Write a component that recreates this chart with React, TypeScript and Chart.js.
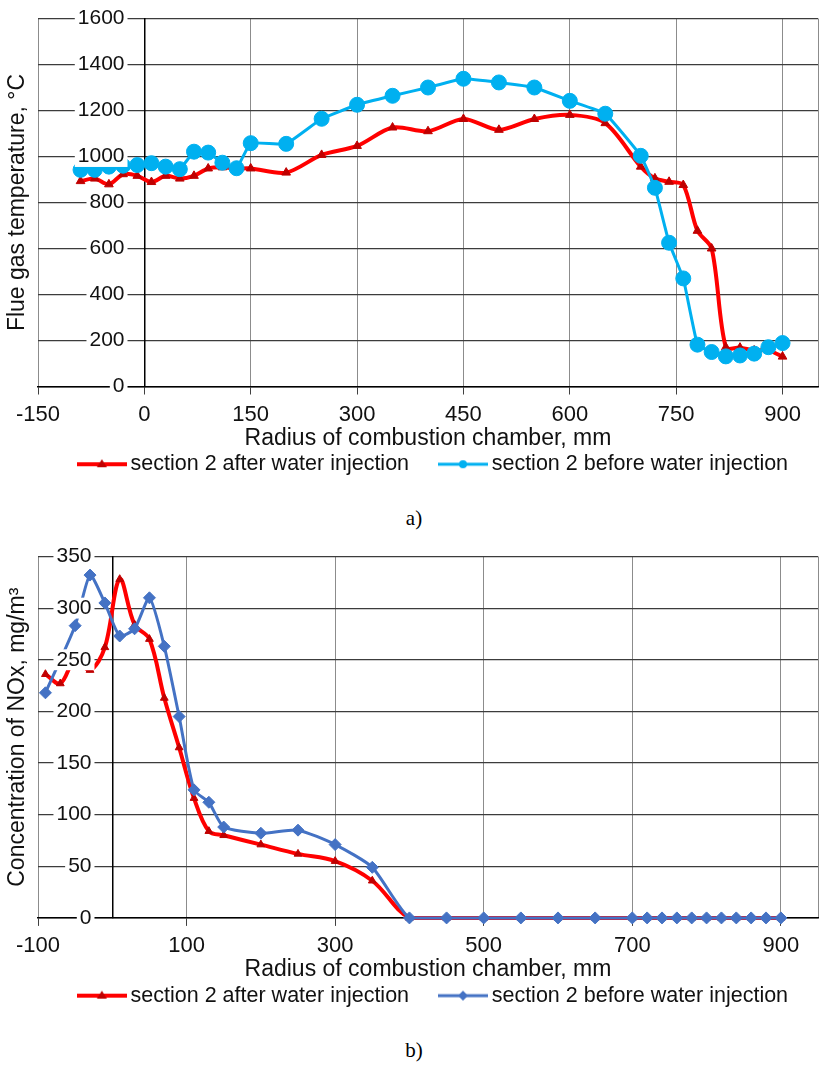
import { useEffect, useRef } from "react";
import { Chart, registerables } from "chart.js";

Chart.register(...registerables);

// chart a) flue gas temperature
const radiusA = [-90, -70, -50, -30, -10, 10, 30, 50, 70, 90, 110, 130, 150, 200, 250, 300, 350, 400, 450, 500, 550, 600, 650, 700, 720, 740, 760, 780, 800, 820, 840, 860, 880, 900];
const tempAfter = [893, 904, 879, 923, 916, 889, 916, 904, 916, 948, 953, 948, 948, 930, 1007, 1046, 1126, 1110, 1163, 1116, 1163, 1181, 1145, 956, 905, 890, 876, 677, 600, 171, 169, 157, 157, 130];
const tempBefore = [942, 942, 956, 960, 963, 971, 956, 945, 1021, 1017, 973, 949, 1058, 1055, 1164, 1225, 1264, 1300, 1338, 1322, 1300, 1242, 1186, 1003, 864, 625, 470, 182, 150, 131, 135, 143, 171, 189];
const tickXA = [-150, 0, 150, 300, 450, 600, 750, 900];

// chart b) NOx concentration
const radiusAfterB = [-90, -70, -50, -30, -10, 10, 30, 50, 70, 90, 110, 130, 150, 200, 250, 300, 350, 400, 450, 500, 550, 600, 650, 700, 720, 740, 760, 780, 800, 820, 840, 860, 880, 900];
const noxAfter = [236, 227, 250, 240, 262, 328, 284, 270, 213, 165, 116, 84, 80, 71, 62, 55, 36, 0, 0, 0, 0, 0, 0, 0, 0, 0, 0, 0, 0, 0, 0, 0, 0, 0];
const radiusBeforeB = [-90, -50, -30, -10, 10, 30, 50, 70, 90, 110, 130, 150, 200, 250, 300, 350, 400, 450, 500, 550, 600, 650, 700, 720, 740, 760, 780, 800, 820, 840, 860, 880, 900];
const noxBefore = [218, 283, 332, 305, 273, 280, 310, 263, 195, 124, 112, 88, 82, 85, 71, 49, 0, 0, 0, 0, 0, 0, 0, 0, 0, 0, 0, 0, 0, 0, 0, 0, 0];
const tickXB = [-100, 100, 300, 500, 700, 900];

const legendAfter = "section 2 after water injection";
const legendBefore = "section 2 before water injection";

const SANS = '"Liberation Sans", Arial, sans-serif';
const SERIF = '"Liberation Serif", "Times New Roman", serif';
const INK = "#111";

type Series = {
  label: string;
  xs: number[];
  ys: number[];
  line: string;
  marker: string;
  pointStyle: "triangle" | "circle" | "rectRot";
  radius: number;
  width: number;
  tension: number;
  order: number;
  gap: string;
};

type PanelProps = {
  top: number;
  height: number;
  padTop: number;
  padBottom: number;
  xMin: number;
  xMax: number;
  xTicks: number[];
  yMax: number;
  yStep: number;
  labelAt: number; // x value where the y tick labels end (left of the y axis)
  xTitle: string;
  yTitle: string;
  series: Series[];
};

function legendIcon(s: Series) {
  const c = document.createElement("canvas");
  c.width = 50;
  c.height = 16;
  const g = c.getContext("2d");
  if (!g) return c;
  g.strokeStyle = s.line;
  g.lineWidth = s.width;
  g.beginPath();
  g.moveTo(0, 8);
  g.lineTo(50, 8);
  g.stroke();
  g.fillStyle = s.marker;
  g.beginPath();
  if (s.pointStyle === "circle") {
    g.arc(25, 8, 4, 0, Math.PI * 2);
  } else if (s.pointStyle === "triangle") {
    g.moveTo(25, 3);
    g.lineTo(30, 11);
    g.lineTo(20, 11);
  } else {
    g.moveTo(25, 3);
    g.lineTo(30, 8);
    g.lineTo(25, 13);
    g.lineTo(20, 8);
  }
  g.closePath();
  g.fill();
  return c;
}

function LinePanel(p: PanelProps) {
  const canvasRef = useRef<HTMLCanvasElement | null>(null);

  useEffect(() => {
    if (!canvasRef.current) return;
    const icons = p.series.map(legendIcon);
    const tickFont = { family: SANS, size: 21, lineHeight: 0.9 };

    const chart = new Chart(canvasRef.current, {
      type: "line",
      data: {
        datasets: p.series.map((s) => ({
          label: s.label,
          data: s.xs.map((x, i) => ({ x, y: s.ys[i] })),
          borderColor: s.line,
          borderWidth: s.width,
          backgroundColor: s.marker,
          pointBackgroundColor: s.marker,
          pointBorderColor: s.marker,
          pointBorderWidth: 1,
          pointStyle: s.pointStyle,
          pointRadius: s.radius,
          tension: s.tension,
          order: s.order,
          clip: false,
          fill: false,
        })),
      },
      options: {
        animation: false,
        responsive: true,
        maintainAspectRatio: false,
        events: [],
        layout: { padding: { left: 4.2, right: 10, top: p.padTop, bottom: p.padBottom } },
        plugins: {
          tooltip: { enabled: false },
          legend: {
            position: "bottom",
            align: "end",
            fullSize: false,
            labels: {
              usePointStyle: true,
              pointStyleWidth: 36,
              padding: 12,
              color: INK,
              font: { family: SANS, size: 21.5 },
              generateLabels: () =>
                p.series.map((s, i) => ({
                  text: s.label + s.gap,
                  pointStyle: icons[i],
                  fillStyle: "rgba(0,0,0,0)",
                  strokeStyle: "rgba(0,0,0,0)",
                  lineWidth: 0,
                  hidden: false,
                  datasetIndex: i,
                  fontColor: INK,
                })),
            },
          },
        },
        scales: {
          x: {
            type: "linear",
            min: p.xMin,
            max: p.xMax,
            afterBuildTicks: (scale: any) => {
              scale.ticks = [...p.xTicks, p.xMax].map((v) => ({ value: v }));
            },
            ticks: {
              autoSkip: false,
              maxRotation: 0,
              padding: 9.5,
              color: INK,
              font: { family: SANS, size: 22, lineHeight: 1 },
              callback: (v: any) => (v === p.xMax ? "" : String(v)),
            },
            grid: {
              color: "#8c8c8c",
              lineWidth: 1,
              tickLength: 8,
              tickColor: (ctx: any) =>
                ctx.tick && ctx.tick.value === p.xMax ? "rgba(0,0,0,0)" : "#404040",
            },
            border: { color: "#000", width: 1.5 },
            title: {
              display: true,
              text: p.xTitle,
              color: INK,
              font: { family: SANS, size: 23, lineHeight: 0.26 },
              padding: { top: 0, bottom: 0 },
            },
          },
          y: {
            type: "linear",
            position: { x: 0 } as any,
            min: 0,
            max: p.yMax,
            ticks: { stepSize: p.yStep, display: false },
            grid: { color: "#3c3c3c", lineWidth: 1.2, drawTicks: false },
            border: { color: "#000", width: 1.5 },
          },
          yLabels: {
            type: "linear",
            axis: "y",
            position: { x: p.labelAt } as any,
            min: 0,
            max: p.yMax,
            ticks: {
              stepSize: p.yStep,
              z: 1,
              color: INK,
              font: tickFont,
              callback: (v: any) => String(v),
              showLabelBackdrop: true,
              backdropColor: "#fff",
              backdropPadding: { top: 1, bottom: 1, left: 3, right: 3 },
            },
            grid: { display: false, drawTicks: false },
            border: { display: false },
          },
          yTitle: {
            type: "linear",
            axis: "y",
            position: "left",
            display: true,
            ticks: { display: false },
            grid: { display: false, drawTicks: false },
            border: { display: false },
            title: {
              display: true,
              text: p.yTitle,
              color: INK,
              font: { family: SANS, size: 23, lineHeight: 1.2 },
              padding: { top: 0, bottom: 6.2 },
            },
          },
        },
      } as any,
    });

    return () => {
      chart.destroy();
    };
  }, []);

  return (
    <div style={{ position: "absolute", left: 0, top: p.top, width: 828, height: p.height }}>
      <canvas ref={canvasRef} />
    </div>
  );
}

const captionStyle = {
  position: "absolute" as const,
  left: 0,
  width: 828,
  textAlign: "center" as const,
  fontFamily: SERIF,
  fontSize: 21,
  lineHeight: "24px",
  color: "#000",
};

export default function App() {
  const seriesA: Series[] = [
    {
      label: legendAfter, xs: radiusA, ys: tempAfter, line: "#ff0000", marker: "#c00000",
      pointStyle: "triangle", radius: 5, width: 4, tension: 0.3, order: 1, gap: "    ",
    },
    {
      label: legendBefore, xs: radiusA, ys: tempBefore, line: "#00b0f0", marker: "#00b0f0",
      pointStyle: "circle", radius: 7.5, width: 3, tension: 0.1, order: 0, gap: "   ",
    },
  ];
  const seriesB: Series[] = [
    {
      label: legendAfter, xs: radiusAfterB, ys: noxAfter, line: "#ff0000", marker: "#c00000",
      pointStyle: "triangle", radius: 4.5, width: 4, tension: 0.35, order: 1, gap: "    ",
    },
    {
      label: legendBefore, xs: radiusBeforeB, ys: noxBefore, line: "#4472c4", marker: "#4472c4",
      pointStyle: "rectRot", radius: 6, width: 3, tension: 0.2, order: 0, gap: "   ",
    },
  ];

  return (
    <div style={{ position: "absolute", left: 0, top: 0, width: 828, height: 1068, background: "#fff" }}>
      <LinePanel
        top={0} height={500} padTop={18.5} padBottom={15}
        xMin={-150} xMax={950} xTicks={tickXA} yMax={1600} yStep={200} labelAt={-28}
        xTitle="Radius of combustion chamber, mm" yTitle="Flue gas temperature, °C"
        series={seriesA}
      />
      <div style={{ ...captionStyle, top: 506 }}>a)</div>
      <LinePanel
        top={535} height={500} padTop={21.5} padBottom={18.6}
        xMin={-100} xMax={950} xTicks={tickXB} yMax={350} yStep={50} labelAt={-28}
        xTitle="Radius of combustion chamber, mm" yTitle="Concentration of NOx, mg/m³"
        series={seriesB}
      />
      <div style={{ ...captionStyle, top: 1038 }}>b)</div>
    </div>
  );
}
